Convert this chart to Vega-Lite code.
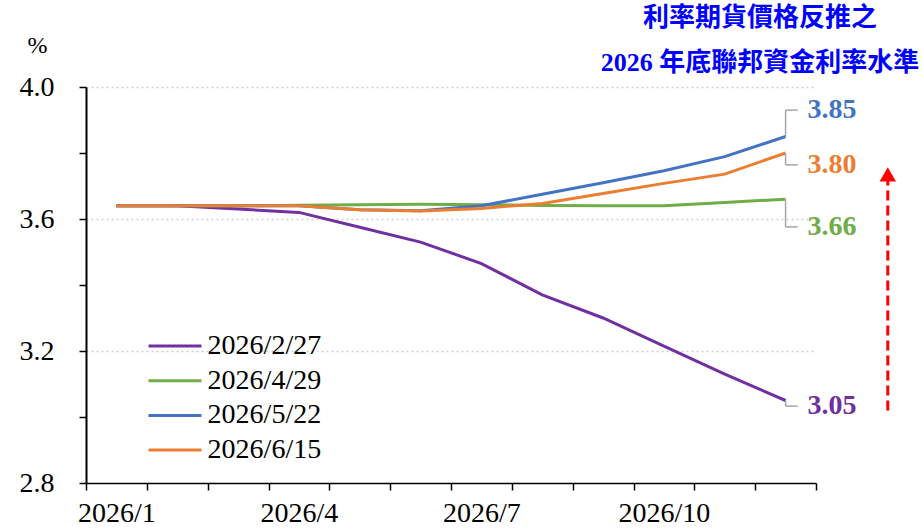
{
  "$schema": "https://vega.github.io/schema/vega-lite/v6.json",
  "width": 730,
  "height": 396,
  "autosize": "none",
  "padding": {"left": 86, "top": 87, "right": 106, "bottom": 46},
  "background": "white",
  "config": {"view": {"stroke": null}, "font": "Liberation Serif"},
  "title": {
    "text": ["利率期貨價格反推之", "2026 年底聯邦資金利率水準"],
    "anchor": "end",
    "frame": "group",
    "align": "center",
    "dx": -56,
    "dy": 55,
    "offset": 12,
    "fontSize": 26,
    "fontWeight": "bold",
    "color": "#0000ff",
    "font": "Liberation Serif, Noto Sans CJK TC",
    "lineHeight": 45
  },
  "datasets": {
    "rates": [
      {"date": "2026/2/27", "month": 1, "rate": 3.64},
      {"date": "2026/2/27", "month": 2, "rate": 3.64},
      {"date": "2026/2/27", "month": 3, "rate": 3.63},
      {"date": "2026/2/27", "month": 4, "rate": 3.62},
      {"date": "2026/2/27", "month": 5, "rate": 3.575},
      {"date": "2026/2/27", "month": 6, "rate": 3.53},
      {"date": "2026/2/27", "month": 7, "rate": 3.465},
      {"date": "2026/2/27", "month": 8, "rate": 3.37},
      {"date": "2026/2/27", "month": 9, "rate": 3.30},
      {"date": "2026/2/27", "month": 10, "rate": 3.215},
      {"date": "2026/2/27", "month": 11, "rate": 3.13},
      {"date": "2026/2/27", "month": 12, "rate": 3.05},
      {"date": "2026/4/29", "month": 1, "rate": 3.64},
      {"date": "2026/4/29", "month": 2, "rate": 3.64},
      {"date": "2026/4/29", "month": 3, "rate": 3.64},
      {"date": "2026/4/29", "month": 4, "rate": 3.642},
      {"date": "2026/4/29", "month": 5, "rate": 3.643},
      {"date": "2026/4/29", "month": 6, "rate": 3.645},
      {"date": "2026/4/29", "month": 7, "rate": 3.643},
      {"date": "2026/4/29", "month": 8, "rate": 3.641},
      {"date": "2026/4/29", "month": 9, "rate": 3.64},
      {"date": "2026/4/29", "month": 10, "rate": 3.64},
      {"date": "2026/4/29", "month": 11, "rate": 3.65},
      {"date": "2026/4/29", "month": 12, "rate": 3.66},
      {"date": "2026/5/22", "month": 1, "rate": 3.64},
      {"date": "2026/5/22", "month": 2, "rate": 3.64},
      {"date": "2026/5/22", "month": 3, "rate": 3.64},
      {"date": "2026/5/22", "month": 4, "rate": 3.64},
      {"date": "2026/5/22", "month": 5, "rate": 3.628},
      {"date": "2026/5/22", "month": 6, "rate": 3.625},
      {"date": "2026/5/22", "month": 7, "rate": 3.64},
      {"date": "2026/5/22", "month": 8, "rate": 3.675},
      {"date": "2026/5/22", "month": 9, "rate": 3.71},
      {"date": "2026/5/22", "month": 10, "rate": 3.746},
      {"date": "2026/5/22", "month": 11, "rate": 3.789},
      {"date": "2026/5/22", "month": 12, "rate": 3.85},
      {"date": "2026/6/15", "month": 1, "rate": 3.64},
      {"date": "2026/6/15", "month": 2, "rate": 3.64},
      {"date": "2026/6/15", "month": 3, "rate": 3.64},
      {"date": "2026/6/15", "month": 4, "rate": 3.64},
      {"date": "2026/6/15", "month": 5, "rate": 3.628},
      {"date": "2026/6/15", "month": 6, "rate": 3.624},
      {"date": "2026/6/15", "month": 7, "rate": 3.632},
      {"date": "2026/6/15", "month": 8, "rate": 3.647},
      {"date": "2026/6/15", "month": 9, "rate": 3.677},
      {"date": "2026/6/15", "month": 10, "rate": 3.708},
      {"date": "2026/6/15", "month": 11, "rate": 3.736},
      {"date": "2026/6/15", "month": 12, "rate": 3.80}
    ],
    "ends": [
      {"date": "2026/5/22", "month": 12, "rate": 3.85, "label": "3.85", "label_at": 3.93},
      {"date": "2026/6/15", "month": 12, "rate": 3.80, "label": "3.80", "label_at": 3.764},
      {"date": "2026/4/29", "month": 12, "rate": 3.66, "label": "3.66", "label_at": 3.576},
      {"date": "2026/2/27", "month": 12, "rate": 3.05, "label": "3.05", "label_at": 3.033}
    ]
  },
  "layer": [
    {
      "data": {"name": "rates"},
      "mark": {"type": "line", "strokeWidth": 3, "clip": false},
      "encoding": {
        "x": {
          "field": "month",
          "type": "quantitative",
          "scale": {"domain": [0.5, 12.5], "nice": false, "zero": false},
          "axis": {
            "title": null,
            "values": [0.5, 1.5, 2.5, 3.5, 4.5, 5.5, 6.5, 7.5, 8.5, 9.5, 10.5, 11.5, 12.5],
            "labelExpr": "indexof([0.5, 3.5, 6.5, 9.5], datum.value) >= 0 ? '2026/' + (datum.value + 0.5) : ''",
            "labelOffset": 30.4,
            "labelOverlap": false,
            "labelBound": false,
            "labelFlush": false,
            "labelFontSize": 28,
            "labelFont": "Liberation Serif",
            "labelColor": "black",
            "labelPadding": 9,
            "grid": false,
            "tickSize": 7,
            "tickColor": "black",
            "tickWidth": 1.5,
            "domainColor": "black",
            "domainWidth": 1.5
          }
        },
        "y": {
          "field": "rate",
          "type": "quantitative",
          "scale": {"domain": [2.8, 4.0], "nice": false, "zero": false},
          "axis": {
            "title": "%",
            "titleAngle": 0,
            "titleX": -49,
            "titleY": -42,
            "titleAlign": "center",
            "titleBaseline": "middle",
            "titleFontSize": 24,
            "titleFontWeight": "normal",
            "titleFont": "Liberation Serif",
            "titleColor": "black",
            "values": [2.8, 2.9, 3.0, 3.1, 3.2, 3.3, 3.4, 3.5, 3.6, 3.7, 3.8, 3.9, 4.0],
            "labelExpr": "round(datum.value * 10) % 4 == 0 ? format(datum.value, '.1f') : ''",
            "labelFontSize": 28,
            "labelFont": "Liberation Serif",
            "labelColor": "black",
            "labelPadding": 25,
            "labelOverlap": false,
            "grid": true,
            "gridDash": [2, 3],
            "gridColor": "#cfcfcf",
            "gridWidth": 1.5,
            "gridOpacity": {"condition": {"test": "round(datum.value * 10) % 4 == 0 && datum.value > 2.85", "value": 1}, "value": 0},
            "tickSize": 7,
            "tickColor": "black",
            "tickWidth": 1.5,
            "domainColor": "black",
            "domainWidth": 2
          }
        },
        "color": {
          "field": "date",
          "type": "nominal",
          "scale": {
            "domain": ["2026/2/27", "2026/4/29", "2026/5/22", "2026/6/15"],
            "range": ["#7030a0", "#70ad47", "#4472c4", "#ed7d31"]
          },
          "legend": {
            "orient": "none",
            "legendX": 75,
            "legendY": 245,
            "title": null,
            "padding": 0,
            "symbolType": "M-3,0H3",
            "symbolStrokeWidth": 3,
            "symbolSize": 312,
            "symbolFillColor": "transparent",
            "labelFontSize": 28,
            "labelFont": "Liberation Serif",
            "labelColor": "black",
            "labelOffset": 18.6,
            "rowPadding": 6.7
          }
        }
      }
    },
    {
      "data": {"name": "ends"},
      "mark": {"type": "rule", "color": "#a6a6a6", "strokeWidth": 1.5},
      "encoding": {
        "x": {"field": "month", "type": "quantitative"},
        "y": {"field": "rate", "type": "quantitative"},
        "y2": {"field": "label_at"}
      }
    },
    {
      "data": {"name": "ends"},
      "mark": {"type": "rule", "color": "#a6a6a6", "strokeWidth": 1.5, "clip": false},
      "encoding": {
        "x": {"field": "month", "type": "quantitative"},
        "x2": {"datum": 12.2},
        "y": {"field": "label_at", "type": "quantitative"}
      }
    },
    {
      "data": {"name": "ends"},
      "mark": {"type": "text", "align": "left", "baseline": "middle", "dx": 22, "fontSize": 28, "fontWeight": "bold", "font": "Liberation Serif", "clip": false},
      "encoding": {
        "x": {"field": "month", "type": "quantitative"},
        "y": {"field": "label_at", "type": "quantitative"},
        "text": {"field": "label"},
        "color": {"field": "date", "type": "nominal", "legend": null}
      }
    },
    {
      "data": {"values": [{"from": 3.02, "to": 3.715}]},
      "mark": {"type": "rule", "color": "#ff0000", "strokeWidth": 3, "strokeDash": [10, 5], "clip": false},
      "encoding": {
        "x": {"datum": 13.68, "type": "quantitative"},
        "y": {"field": "from", "type": "quantitative"},
        "y2": {"field": "to"}
      }
    },
    {
      "data": {"values": [{"tip": 3.735}]},
      "mark": {"type": "point", "shape": "triangle-up", "filled": true, "color": "#ff0000", "size": 270, "opacity": 1, "clip": false},
      "encoding": {
        "x": {"datum": 13.68, "type": "quantitative"},
        "y": {"field": "tip", "type": "quantitative"}
      }
    }
  ]
}
